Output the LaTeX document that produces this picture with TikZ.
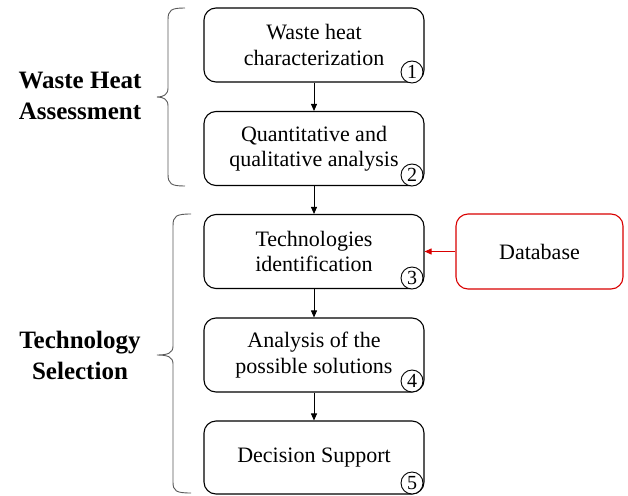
\documentclass[tikz,border=0pt]{standalone}
\usepackage{fontspec}
\setmainfont{Liberation Serif}
\usetikzlibrary{arrows.meta}
\begin{document}
\begin{tikzpicture}[x=1pt,y=-1pt,
  stepbox/.style={draw=black,line width=1.1pt,rounded corners=12pt,minimum width=220pt,minimum height=74pt,align=center,font=\fontsize{22}{25.5}\selectfont,inner sep=0pt},
  dbbox/.style={draw=red!85!black,line width=1.1pt,rounded corners=12pt,minimum width=167pt,minimum height=75pt,align=center,font=\fontsize{22}{25.5}\selectfont,inner sep=0pt},
  numc/.style={draw=black,line width=0.9pt,circle,minimum size=22pt,inner sep=0pt,font=\fontsize{20}{20}\selectfont,fill=white},
  conn/.style={-{Triangle[length=7pt,width=6pt]},black,line width=0.9pt},
  lbl/.style={align=center,font=\bfseries\fontsize{25}{31}\selectfont},
  bracel/.style={draw=gray!70!black,line width=0.9pt}]
\useasboundingbox (0,0) rectangle (628,495);
\node[stepbox] (b1) at (314,45) {Waste heat\\characterization};
\node[stepbox] (b2) at (314,148.5) {Quantitative and\\qualitative analysis};
\node[stepbox] (b3) at (314,251.5) {Technologies\\identification};
\node[stepbox] (b4) at (314,355) {Analysis of  the\\possible solutions};
\node[stepbox,minimum height=73pt] (b5) at (314,457.5) {\raisebox{-2pt}{Decision Support}};
\node[dbbox] (db) at (539.5,251.5) {Database};
\node[numc] (n1) at (412,72) {1};
\node[numc] (n2) at (412,175) {2};
\node[numc] (n3) at (412,278) {3};
\node[numc] (n4) at (412,381) {4};
\node[numc] (n5) at (412,483) {5};
\draw[conn] (b1) -- (b2);
\draw[conn] (b2) -- (b3);
\draw[conn] (b3) -- (b4);
\draw[conn] (b4) -- (b5);
\draw[-{Triangle[length=7pt,width=6pt]},red!85!black,line width=0.9pt] (db) -- (b3);
\draw[bracel] (185,8) .. controls (171,8) and (168,10) .. (168,20) -- (168,88)
  .. controls (168,95) and (163,97) .. (157,97) .. controls (163,97) and (168,99) .. (168,106)
  -- (168,174) .. controls (168,184) and (171,186) .. (185,186);
\draw[bracel] (191,214) .. controls (176,214) and (173,216) .. (173,226) -- (173,346)
  .. controls (173,353) and (168,355) .. (157,355) .. controls (168,355) and (173,357) .. (173,364)
  -- (173,482) .. controls (173,491) and (176,493) .. (191,493);
\node[lbl] (l1) at (80,96) {Waste Heat\\Assessment};
\node[lbl] (l2) at (80,355) {Technology\\Selection};
\end{tikzpicture}
\end{document}
